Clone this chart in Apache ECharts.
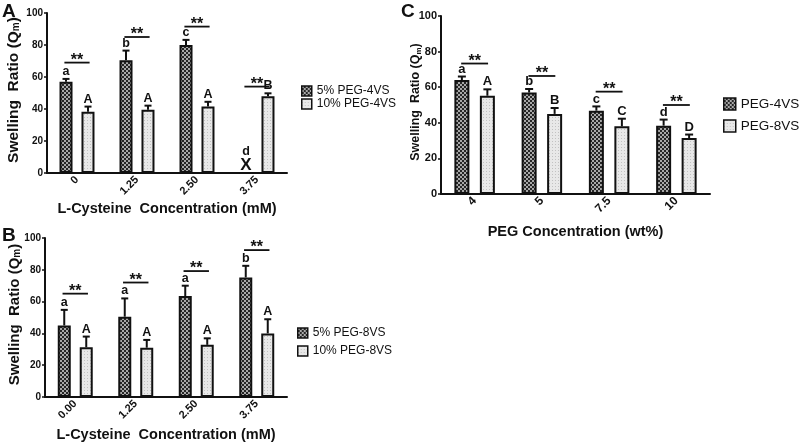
<!DOCTYPE html>
<html>
<head>
<meta charset="utf-8">
<script src="https://cdn.jsdelivr.net/npm/echarts@6/dist/echarts.min.js"></script>
<style>
  html, body { margin: 0; padding: 0; background: #fff; }
  #chart { width: 800px; height: 443px; }
</style>
</head>
<body>
<div id="chart"></div>
<script>
// panel A - L-Cysteine, PEG-4VS
const catA = ['0', '1.25', '2.50', '3.75']
const a5 = [57, 70.5, 80, 0]
const a5Err = [1.8, 6, 3.2, 0]
const a5Let = ['a', 'b', 'c', 'd']
const a10 = [38.3, 39.5, 41.5, 48]
const a10Err = [3.2, 2.6, 3, 1.8]
const a10Let = ['A', 'A', 'A', 'B']
const aSig = [69, 85, 91.5, 54]

// panel B - L-Cysteine, PEG-8VS
const catB = ['0.00', '1.25', '2.50', '3.75']
const b5 = [45, 50.5, 63.5, 75.2]
const b5Err = [9.8, 11.5, 6.5, 7.3]
const b5Let = ['a', 'a', 'a', 'b']
const b10 = [31.3, 31, 32.8, 40]
const b10Err = [6.7, 4.9, 4.1, 8.9]
const b10Let = ['A', 'A', 'A', 'A']
const bSig = [65, 72, 79.2, 92.4]

// panel C - PEG concentration
const catC = ['4', '5', '7.5', '10']
const c4 = [64, 57, 46.8, 38.4]
const c4Err = [2, 2, 2.4, 3.4]
const c4Let = ['a', 'b', 'c', 'd']
const c8 = [55.2, 45, 38, 31.4]
const c8Err = [3.6, 3.3, 4.3, 2]
const c8Let = ['A', 'B', 'C', 'D']
const cSig = [73.3, 66.3, 57.5, 50]

const FONT = 'Liberation Sans, Arial, sans-serif'

function makePattern(size, bg, fg, cells) {
  let c = document.createElement('canvas')
  c.width = c.height = size
  let g = c.getContext('2d')
  g.fillStyle = bg
  g.fillRect(0, 0, size, size)
  g.fillStyle = fg
  cells.forEach(([x, y, w]) => g.fillRect(x, y, w, w))
  return { image: c, repeat: 'repeat' }
}
const darkFill = makePattern(4, '#262626', '#a8a8a8', [[0, 0, 2], [2, 2, 2]])
const lightFill = makePattern(3, '#e8e8e8', '#c2c2c2', [[0, 0, 1]])

function barSeries(gi, name, data, fill, width, gap) {
  return {
    name,
    type: 'bar',
    xAxisIndex: gi,
    yAxisIndex: gi,
    data,
    barWidth: width,
    barGap: gap,
    itemStyle: { color: fill, borderColor: '#111', borderWidth: 2 },
    silent: true
  }
}

// error bar (upward only) + group letter, drawn from the data coords
function errSeries(gi, vals, errs, lets, off, capW, fs) {
  return {
    type: 'custom',
    xAxisIndex: gi,
    yAxisIndex: gi,
    data: vals.map((v, i) => [i, v, errs[i]]),
    z: 5,
    renderItem(params, api) {
      let i = api.value(0)
      let v = api.value(1)
      let e = api.value(2)
      let letter = lets[params.dataIndex]
      let p0 = api.coord([i, v])
      let p1 = api.coord([i, v + e])
      let x = p0[0] + off
      let children = []
      if (v === 0) {
        children.push({
          type: 'text',
          style: { x, y: p0[1] + 1, text: 'X', fill: '#111', font: 'bold 17px ' + FONT, align: 'center', verticalAlign: 'bottom' }
        })
        children.push({
          type: 'text',
          style: { x, y: p0[1] - 15, text: letter, fill: '#111', font: 'bold ' + fs + 'px ' + FONT, align: 'center', verticalAlign: 'bottom' }
        })
        return { type: 'group', children }
      }
      children.push({
        type: 'line',
        shape: { x1: x, y1: p0[1], x2: x, y2: p1[1] },
        style: { stroke: '#111', lineWidth: 2 }
      })
      children.push({
        type: 'line',
        shape: { x1: x - capW / 2, y1: p1[1], x2: x + capW / 2, y2: p1[1] },
        style: { stroke: '#111', lineWidth: 2 }
      })
      children.push({
        type: 'text',
        style: { x, y: p1[1] - 1, text: letter, fill: '#111', font: 'bold ' + fs + 'px ' + FONT, align: 'center', verticalAlign: 'bottom' }
      })
      return { type: 'group', children }
    }
  }
}

// significance bracket "**" over each group
function sigSeries(gi, vals, frac) {
  return {
    type: 'custom',
    xAxisIndex: gi,
    yAxisIndex: gi,
    data: vals.map((v, i) => [i, v]),
    z: 5,
    renderItem(params, api) {
      let c = api.coord([api.value(0), api.value(1)])
      let hw = api.size([1, 0])[0] * frac
      return {
        type: 'group',
        children: [
          { type: 'line', shape: { x1: c[0] - hw, y1: c[1], x2: c[0] + hw, y2: c[1] }, style: { stroke: '#111', lineWidth: 1.8 } },
          { type: 'text', style: { x: c[0], y: c[1] + 6, text: '**', fill: '#111', font: 'bold 16px ' + FONT, align: 'center', verticalAlign: 'bottom' } }
        ]
      }
    }
  }
}

function xAx(gi, cats, name, fs, nameFs, gap) {
  return {
    type: 'category',
    gridIndex: gi,
    data: cats,
    name,
    nameLocation: 'middle',
    nameGap: gap,
    nameTextStyle: { color: '#111', fontWeight: 'bold', fontSize: nameFs, fontFamily: FONT },
    axisLine: { lineStyle: { color: '#111', width: 2 } },
    axisTick: { alignWithLabel: true, length: 4, lineStyle: { color: '#111', width: 1.5 } },
    axisLabel: { rotate: 45, color: '#111', fontWeight: 'bold', fontSize: fs, fontFamily: FONT, margin: 5 }
  }
}

function yAx(gi, fs, nameFs, gap) {
  let txt = { fontSize: nameFs, fontWeight: 'bold', fontFamily: FONT, color: '#111', verticalAlign: 'bottom', lineHeight: 18 }
  return {
    type: 'value',
    gridIndex: gi,
    min: 0,
    max: 100,
    interval: 20,
    name: '{n|Swelling  Ratio (Q}{sub|m}{n|)}',
    nameLocation: 'middle',
    nameRotate: 90,
    nameGap: gap,
    nameMoveOverlap: false,
    nameTextStyle: {
      color: '#111', fontWeight: 'bold', fontSize: nameFs, fontFamily: FONT, lineHeight: 18,
      padding: [0, 0, 0, 6],
      rich: {
        n: txt,
        sub: Object.assign({}, txt, { fontSize: Math.round(nameFs * 0.65), lineHeight: 18 })
      }
    },
    splitLine: { show: false },
    axisLine: { show: true, lineStyle: { color: '#111', width: 2 } },
    axisTick: { show: true, length: 3, lineStyle: { color: '#111', width: 1.5 } },
    axisLabel: { color: '#111', fontWeight: 'bold', fontSize: fs, fontFamily: FONT, margin: 4 }
  }
}

function legendOf(names, left, top, gap, size, fs) {
  return {
    data: names,
    orient: 'vertical',
    left,
    top,
    padding: 0,
    itemGap: gap,
    itemWidth: size,
    itemHeight: size,
    icon: 'rect',
    selectedMode: false,
    itemStyle: { borderColor: '#111', borderWidth: 1.5 },
    textStyle: { color: '#111', fontSize: fs, fontFamily: FONT, lineHeight: size, padding: [0, 0, 0, 0] }
  }
}

let chart = echarts.init(document.getElementById('chart'), null, { renderer: 'canvas' })

chart.setOption({
  animation: false,
  backgroundColor: '#fff',
  title: [
    { text: 'A', left: 2, top: 2, padding: 0, textStyle: { fontSize: 19, fontWeight: 'bold', color: '#111', fontFamily: FONT } },
    { text: 'B', left: 2, top: 226, padding: 0, textStyle: { fontSize: 19, fontWeight: 'bold', color: '#111', fontFamily: FONT } },
    { text: 'C', left: 401, top: 2, padding: 0, textStyle: { fontSize: 19, fontWeight: 'bold', color: '#111', fontFamily: FONT } }
  ],
  grid: [
    { left: 47, top: 13, width: 240, height: 160 },
    { left: 45, top: 238, width: 242, height: 159 },
    { left: 441, top: 16, width: 269, height: 178 }
  ],
  legend: [
    legendOf(['5% PEG-4VS', '10% PEG-4VS'], 301, 85, 1, 10, 12),
    legendOf(['5% PEG-8VS', '10% PEG-8VS'], 297, 327, 6, 10, 12),
    legendOf(['PEG-4VS', 'PEG-8VS'], 723, 97, 8, 12, 13.5)
  ],
  xAxis: [
    xAx(0, catA, 'L-Cysteine  Concentration (mM)', 11, 14.5, 28),
    xAx(1, catB, 'L-Cysteine  Concentration (mM)', 11, 14.5, 30),
    xAx(2, catC, 'PEG Concentration (wt%)', 12, 14.5, 30)
  ],
  yAxis: [
    yAx(0, 10, 15.5, 25.5),
    yAx(1, 10, 15, 22.5),
    yAx(2, 11, 12.5, 18.5)
  ],
  series: [
    barSeries(0, '5% PEG-4VS', a5, darkFill, 13, '69%'),
    barSeries(0, '10% PEG-4VS', a10, lightFill, 13, '69%'),
    errSeries(0, a5, a5Err, a5Let, -11, 7, 12.5),
    errSeries(0, a10, a10Err, a10Let, 11, 7, 12.5),
    sigSeries(0, aSig, 0.21),

    barSeries(1, '5% PEG-8VS', b5, darkFill, 13, '69%'),
    barSeries(1, '10% PEG-8VS', b10, lightFill, 13, '69%'),
    errSeries(1, b5, b5Err, b5Let, -11, 7, 12.5),
    errSeries(1, b10, b10Err, b10Let, 11, 7, 12.5),
    sigSeries(1, bSig, 0.21),

    barSeries(2, 'PEG-4VS', c4, darkFill, 15, '70%'),
    barSeries(2, 'PEG-8VS', c8, lightFill, 15, '70%'),
    errSeries(2, c4, c4Err, c4Let, -12.75, 8, 13),
    errSeries(2, c8, c8Err, c8Let, 12.75, 8, 13),
    sigSeries(2, cSig, 0.2)
  ]
})
</script>
</body>
</html>
